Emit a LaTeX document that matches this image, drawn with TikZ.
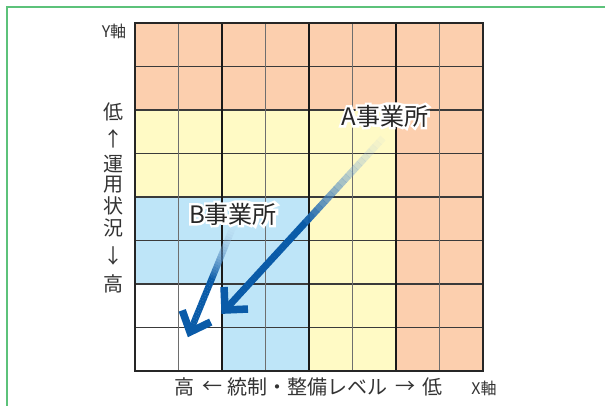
\documentclass[tikz,border=0pt]{standalone}
\usepackage{fontspec}
\setmainfont{Noto Sans CJK JP}
\newfontface\halofont{Noto Sans CJK JP}[FakeBold=20]
\usetikzlibrary{calc}
\definecolor{cOrange}{HTML}{FCCFAE}
\definecolor{cYellow}{HTML}{FFFAC5}
\definecolor{cBlue}{HTML}{BEE5F8}
\definecolor{cGreen}{HTML}{5CC27A}
\definecolor{cArrow}{HTML}{0A5BA8}
\definecolor{cText}{HTML}{333333}
\definecolor{cLineDark}{HTML}{3A3A3A}
\definecolor{cLineGrey}{HTML}{6E6E6E}
\newcommand{\halotext}[1]{\rlap{\halofont\color{white}#1}#1}
\tikzset{
  lbl/.style={inner sep=0pt, text=cText, font=\fontsize{20}{20}\selectfont},
  smalllbl/.style={inner sep=0pt, text=cText, font=\fontsize{16}{16}\selectfont},
  bizlbl/.style={inner sep=0pt, text=black!85, font=\fontsize{24}{24}\selectfont},
  head/.style={line width=7.5pt, color=cArrow, line join=miter, miter limit=10, line cap=butt},
}
\begin{document}
\begin{tikzpicture}[x=1pt,y=-1pt]
\useasboundingbox (0,0) rectangle (605,406);
% green frame (open at right and bottom)
\draw[cGreen, line width=2.2pt] (7,407) -- (7,7) -- (606,7);
% region fills
\fill[cOrange] (135,23) rectangle (483,371);
\fill[cYellow] (135,110) rectangle (396,371);
\fill[cBlue] (135,197) rectangle (309,371);
\fill[white] (135,284) rectangle (222,371);
% grid lines
\foreach \k in {1,...,7} {
  \draw[cLineDark, line width=1.3pt] (135,{23+\k*43.5}) -- (483,{23+\k*43.5});
}
\foreach \k in {1,3,5,7} {
  \draw[cLineGrey, line width=1.6pt] ({135+\k*43.5},23) -- ({135+\k*43.5},371);
}
\foreach \k in {2,4,6} {
  \draw[black!90, line width=1.2pt] ({135+\k*43.5},23) -- ({135+\k*43.5},371);
}
\draw[black!85, line width=1.8pt] (135,23) rectangle (483,371);

% arrow coordinates
\coordinate (As) at (383,138);
\coordinate (At) at (225,310);
\coordinate (Bs) at (233,227);
\coordinate (Bt) at (190,332);
\coordinate (Ae) at ($(At)!4pt!(As)$);
\coordinate (Be) at ($(Bt)!4pt!(Bs)$);
% gradient shafts
\foreach \i in {0,...,39} {
  \pgfmathsetmacro\ta{\i/40}
  \pgfmathsetmacro\tb{(\i+1.05)/40}
  \pgfmathsetmacro\op{min(1,0.1+1.8*\ta)}
  \pgfmathsetmacro\mx{min(100,30+140*\ta)}
  \draw[line width=7pt, color=cArrow!\mx!white, opacity=\op] ($(As)!\ta!(Ae)$) -- ($(As)!\tb!(Ae)$);
  \draw[line width=6.5pt, color=cArrow!\mx!white, opacity=\op] ($(Bs)!\ta!(Be)$) -- ($(Bs)!\tb!(Be)$);
}
% arrow heads
\draw[head] ($(At)!23pt!45:(As)$) -- (At) -- ($(At)!23pt!-45:(As)$);
\draw[head] ($(Bt)!23pt!42:(Bs)$) -- (Bt) -- ($(Bt)!23pt!-42:(Bs)$);

% business labels with white halo
\node[bizlbl] (labA) at (385,116) {\halotext{A事業所}};
\node[bizlbl] (labB) at (233,214) {\halotext{B事業所}};

% axis labels
\node[smalllbl] (yaxis) at (114,31) {Y軸};
\node[smalllbl] (xaxis) at (484,388) {X軸};
\node[lbl] (v1) at (113,112) {低};
\node[lbl] (v2) at (113,139) {↑};
\node[lbl] (v3) at (113,164) {運};
\node[lbl] (v4) at (113,185) {用};
\node[lbl] (v5) at (113,206) {状};
\node[lbl] (v6) at (113,228) {況};
\node[lbl] (v7) at (113,256) {↓};
\node[lbl] (v8) at (113,284) {高};
\node[lbl] (h1) at (184,387) {高};
\node[lbl] (h2) at (212,387) {←};
\node[lbl] (h3) at (307.5,387) {統制・整備レベル};
\node[lbl] (h4) at (405,387) {→};
\node[lbl] (h5) at (432.5,387) {低};
\end{tikzpicture}
\end{document}
